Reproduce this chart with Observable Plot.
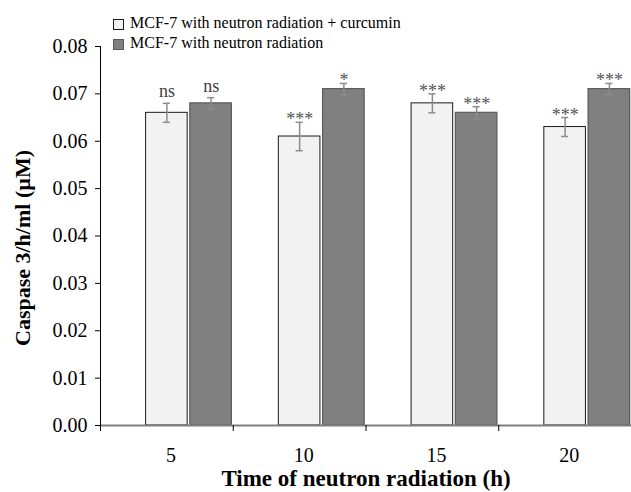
<!DOCTYPE html>
<html><head><meta charset="utf-8">
<script src="https://cdn.jsdelivr.net/npm/d3@7"></script>
<script src="https://cdn.jsdelivr.net/npm/@observablehq/plot@0.6"></script>
<style>
body{margin:0;background:#fff;}
#wrap{position:relative;width:631px;height:492px;font-family:"Liberation Serif","Times New Roman",serif;}
#legend{position:absolute;left:113px;top:13px;font-size:16px;line-height:20px;color:#000;}
.item{display:flex;align-items:center;white-space:nowrap;}
.sw{width:11px;height:11px;margin-right:6px;box-sizing:border-box;position:relative;top:1px;}
</style></head><body><div id="wrap"><div id="legend"></div></div>
<script>
const times = [5, 10, 15, 20];
const seriesNames = ["MCF-7 with neutron radiation + curcumin", "MCF-7 with neutron radiation"];
const curcuminValues = [0.066, 0.061, 0.068, 0.063];
const radiationValues = [0.068, 0.071, 0.066, 0.071];
const curcuminErrors = [0.002, 0.003, 0.002, 0.002];
const radiationErrors = [0.0012, 0.0012, 0.0013, 0.0012];
const curcuminSignif = ["ns", "***", "***", "***"];
const radiationSignif = ["ns", "*", "***", "***"];
const yTicks = [0, 0.01, 0.02, 0.03, 0.04, 0.05, 0.06, 0.07, 0.08];
const xTitle = "Time of neutron radiation (h)";
const yTitle = "Caspase 3/h/ml (\u00b5M)";
const fills = ["#f2f2f2", "#808080"];
const strokes = ["#1a1a1a", "#5a5a5a"];

// layout in data units: each time group holds 3 slots (first is empty)
const step = times[1] - times[0];
const slot = step / 3;
const bw = slot * 0.94;
const capHalf = slot * 0.08;

const rows = times.flatMap((t, i) => [
  {time: t, k: 0, series: seriesNames[0], value: curcuminValues[i], err: curcuminErrors[i], sig: curcuminSignif[i]},
  {time: t, k: 1, series: seriesNames[1], value: radiationValues[i], err: radiationErrors[i], sig: radiationSignif[i]}
]);
const cx = d => d.time + d.k * slot;
const boundaries = [...times.map(t => t - step / 2), times[times.length - 1] + step / 2];

const chart = Plot.plot({
  width: 631,
  height: 492,
  marginLeft: 100,
  marginRight: 0,
  marginTop: 46,
  marginBottom: 67,
  style: {fontFamily: "Liberation Serif, Times New Roman, serif", fontSize: "20px", background: "transparent", color: "#000"},
  x: {type: "linear", domain: [boundaries[0], boundaries[boundaries.length - 1]]},
  y: {domain: [0, 0.08]},
  marks: [
    Plot.rectY(rows.filter(d => d.k === 0), {x1: d => cx(d) - bw / 2, x2: d => cx(d) + bw / 2, y1: 0, y2: "value", fill: fills[0], stroke: strokes[0], strokeWidth: 1}),
    Plot.rectY(rows.filter(d => d.k === 1), {x1: d => cx(d) - bw / 2, x2: d => cx(d) + bw / 2, y1: 0, y2: "value", fill: fills[1], stroke: strokes[1], strokeWidth: 1.2}),
    Plot.ruleX(rows, {x: cx, y1: d => d.value - d.err, y2: d => d.value + d.err, stroke: "#8c8c8c", strokeWidth: 1.5}),
    Plot.ruleY(rows, {y: d => d.value + d.err, x1: d => cx(d) - capHalf, x2: d => cx(d) + capHalf, stroke: "#8c8c8c", strokeWidth: 1.5}),
    Plot.ruleY(rows, {y: d => d.value - d.err, x1: d => cx(d) - capHalf, x2: d => cx(d) + capHalf, stroke: "#8c8c8c", strokeWidth: 1.5}),
    Plot.text(rows.filter(d => d.sig === "ns"), {x: cx, y: d => d.value + d.err, text: "sig", dy: -6, lineAnchor: "bottom", fontSize: 18, fill: "#404040"}),
    Plot.text(rows.filter(d => d.sig !== "ns"), {x: cx, y: d => d.value + d.err, text: "sig", dy: 3, lineAnchor: "bottom", fontSize: 18, fill: "#555"}),
    Plot.ruleY([0], {stroke: "#7f7f7f", strokeWidth: 2}),
    Plot.ruleX([boundaries[0]], {stroke: "#000", strokeWidth: 1}),
    Plot.axisY({ticks: yTicks, tickFormat: d3.format(".2f"), tickSize: 5, tickPadding: 8, fontSize: 20, label: null}),
    Plot.axisX({ticks: boundaries, tickFormat: () => "", tickSize: 6, label: null}),
    Plot.axisX({ticks: times, tickSize: 0, tickPadding: 22, dx: 4, fontSize: 20, label: null}),
    Plot.text([xTitle], {text: d => d, frameAnchor: "bottom", lineAnchor: "middle", dy: 53, fontWeight: "bold", fontSize: 23}),
    Plot.text([yTitle], {text: d => d, frameAnchor: "left", textAnchor: "middle", lineAnchor: "middle", dx: -78, dy: 12, rotate: -90, fontWeight: "bold", fontSize: 22})
  ]
});
document.getElementById("wrap").appendChild(chart);

const legend = document.getElementById("legend");
seriesNames.forEach((name, i) => {
  const item = document.createElement("div");
  item.className = "item";
  const sw = document.createElement("span");
  sw.className = "sw";
  sw.style.background = fills[i];
  sw.style.border = "1px solid " + strokes[i];
  item.appendChild(sw);
  item.appendChild(document.createTextNode(name));
  legend.appendChild(item);
});
</script></body></html>
